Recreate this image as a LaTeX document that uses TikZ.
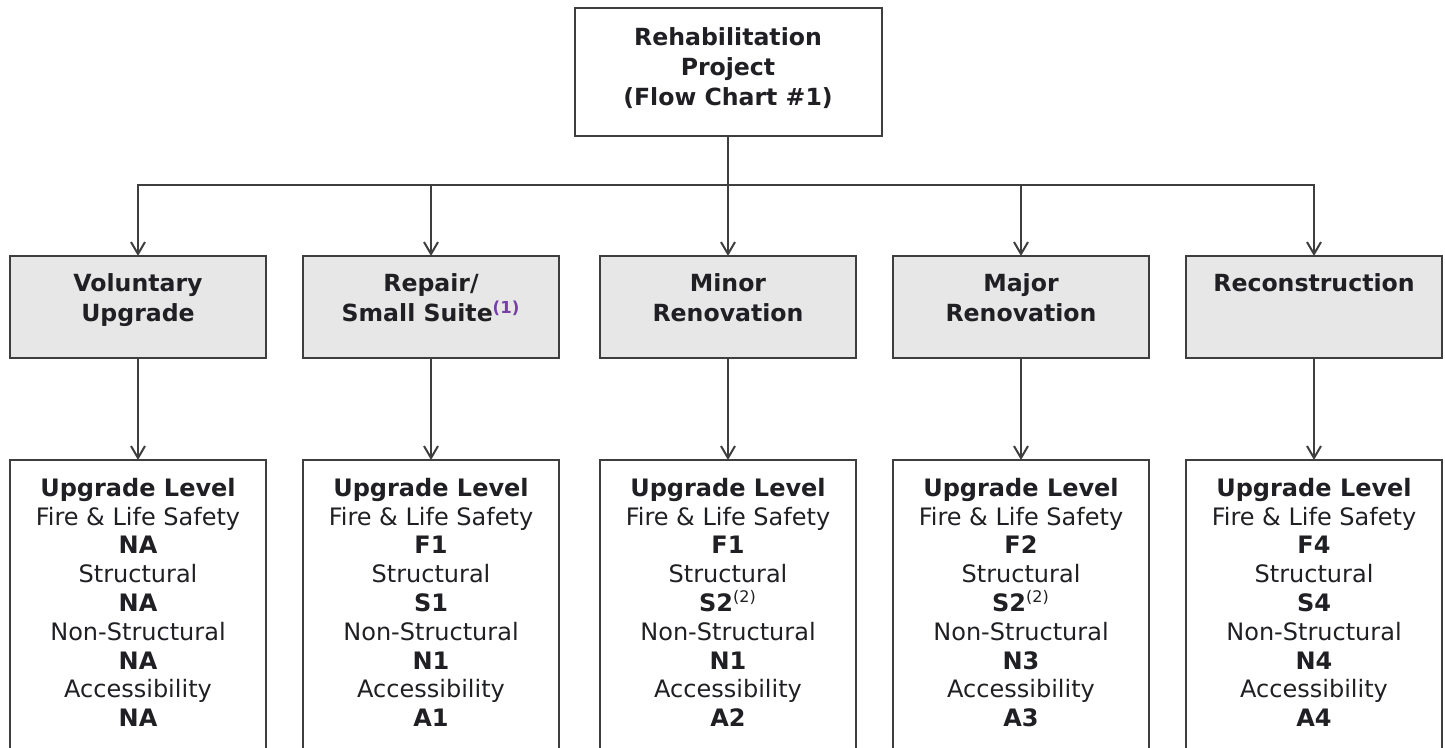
\documentclass[tikz,border=0pt]{standalone}
\usepackage{fontspec}
\setmainfont{DejaVu Sans}
\usetikzlibrary{positioning,arrows.meta}

\definecolor{boxline}{RGB}{62,62,62}
\definecolor{boxfill}{RGB}{231,231,231}
\definecolor{inktext}{RGB}{32,32,36}
\definecolor{notecol}{RGB}{118,62,168}

\tikzset{
  base/.style={draw=boxline, line width=1pt, minimum width=128pt, inner sep=0pt, outer sep=0pt},
  projbox/.style={base, minimum width=153.5pt, minimum height=64pt},
  typebox/.style={base, fill=boxfill, minimum height=51pt},
  lvlbox/.style={base, minimum height=170pt},
  typetext/.style={align=center, inner sep=0pt, outer sep=0pt, text=inktext,
    font=\bfseries\fontsize{11.8}{15}\selectfont},
  lvltext/.style={align=center, inner sep=0pt, outer sep=0pt, text=inktext,
    font=\fontsize{12}{14.4}\selectfont},
  link/.style={draw=boxline, line width=1pt, -{Straight Barb[length=6pt,width=7pt]}},
}

\newcommand{\levels}[4]{\textbf{Upgrade Level}\\Fire \& Life Safety\\\textbf{#1}\\%
  Structural\\\textbf{#2}\\Non-Structural\\\textbf{#3}\\Accessibility\\\textbf{#4}}
\newcommand{\fnmark}[1]{\textsuperscript{#1}}

\begin{document}
\begin{tikzpicture}[x=0.5pt, y=-0.5pt]
  \useasboundingbox (0,0) rectangle (1445,748);
  \clip (0,0) rectangle (1445,748);

  % project types
  \node[typebox] (vol) at (138,307) {};
  \node[typebox, right=18.5pt of vol] (rep) {};
  \node[typebox, right=20.5pt of rep] (min) {};
  \node[typebox, right=18.5pt of min] (maj) {};
  \node[typebox, right=18.5pt of maj] (rec) {};
  \node[projbox, above=60pt of min] (proj) {};

  \node[typetext, below=10pt of proj.north] (projtxt) {Rehabilitation\\Project\\(Flow Chart \#1)};
  \node[typetext, below=9pt of vol.north] (voltxt) {Voluntary\\Upgrade};
  \node[typetext, below=9pt of rep.north] (reptxt)
    {Repair/\\Small Suite\fnmark{\textcolor{notecol}{(1)}}};
  \node[typetext, below=9pt of min.north] (mintxt) {Minor\\Renovation};
  \node[typetext, below=9pt of maj.north] (majtxt) {Major\\Renovation};
  \node[typetext, below=9pt of rec.north] (rectxt) {Reconstruction};

  % upgrade levels
  \node[lvlbox, below=51pt of vol] (vollvl) {};
  \node[lvlbox, below=51pt of rep] (replvl) {};
  \node[lvlbox, below=51pt of min] (minlvl) {};
  \node[lvlbox, below=51pt of maj] (majlvl) {};
  \node[lvlbox, below=51pt of rec] (reclvl) {};

  \node[lvltext, below=9pt of vollvl.north] (volnums) {\levels{NA}{NA}{NA}{NA}};
  \node[lvltext, below=9pt of replvl.north] (repnums) {\levels{F1}{S1}{N1}{A1}};
  \node[lvltext, below=9pt of minlvl.north] (minnums)
    {\levels{F1}{S2\fnmark{\mdseries(2)}}{N1}{A2}};
  \node[lvltext, below=9pt of majlvl.north] (majnums)
    {\levels{F2}{S2\fnmark{\mdseries(2)}}{N3}{A3}};
  \node[lvltext, below=9pt of reclvl.north] (recnums) {\levels{F4}{S4}{N4}{A4}};

  % connectors
  \foreach \t in {vol,rep,maj,rec}
    \draw[link] (proj.south) -- ++(0,49) -| (\t.north);
  \draw[link] (proj.south) -- (min.north);
  \foreach \t in {vol,rep,min,maj,rec}
    \draw[link] (\t.south) -- (\t lvl.north);
\end{tikzpicture}
\end{document}
